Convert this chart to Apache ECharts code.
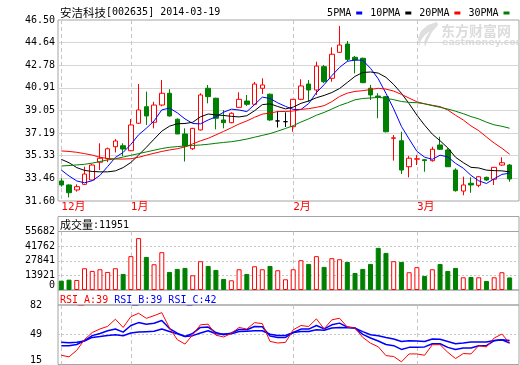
<!DOCTYPE html>
<html><head><meta charset="utf-8">
<script src="https://cdn.jsdelivr.net/npm/echarts@6/dist/echarts.min.js"></script>
<style>html,body{margin:0;padding:0;background:#fff}#c{width:520px;height:365px}</style>
</head><body><div id="c"></div>
<script>
// ---------------- data ----------------
const stockName = '安洁科技';
const stockCode = '002635';
const dates = ['2013-12-19','2013-12-20','2013-12-23','2013-12-24','2013-12-25','2013-12-26','2013-12-27','2013-12-30','2013-12-31',
'2014-01-02','2014-01-03','2014-01-06','2014-01-07','2014-01-08','2014-01-09','2014-01-10','2014-01-13','2014-01-14','2014-01-15','2014-01-16','2014-01-17','2014-01-20','2014-01-21','2014-01-22','2014-01-23','2014-01-24','2014-01-27','2014-01-28','2014-01-29','2014-01-30',
'2014-02-07','2014-02-10','2014-02-11','2014-02-12','2014-02-13','2014-02-14','2014-02-17','2014-02-18','2014-02-19','2014-02-20','2014-02-21','2014-02-24','2014-02-25','2014-02-26','2014-02-27','2014-02-28',
'2014-03-03','2014-03-04','2014-03-05','2014-03-06','2014-03-07','2014-03-10','2014-03-11','2014-03-12','2014-03-13','2014-03-14','2014-03-17','2014-03-18','2014-03-19'];
const opens = [33.25,32.92,32.51,32.97,33.33,34.79,35.08,36.07,36.15,35.74,38.00,39.36,38.08,39.50,40.47,38.33,37.12,35.90,37.45,40.88,40.06,38.27,38.05,39.31,39.83,39.56,40.88,40.39,38.19,38.13,37.72,39.97,41.23,40.74,42.66,41.70,43.84,44.52,43.43,43.35,40.88,40.24,40.19,36.76,36.56,34.42,35.04,35.00,34.92,36.21,35.80,34.15,32.42,33.06,32.89,33.55,33.39,34.56,34.56];
const closes = [32.92,32.28,32.78,33.82,34.56,35.12,35.90,36.54,35.88,37.86,39.09,38.60,39.50,40.47,38.60,37.12,36.13,37.58,40.33,40.19,38.41,38.05,38.82,39.97,39.56,41.23,41.15,38.27,38.19,38.13,39.97,41.07,40.74,42.71,41.42,43.68,44.44,43.26,43.21,41.34,40.33,40.14,37.30,36.80,34.15,35.12,35.08,34.92,35.86,35.86,34.42,32.45,32.92,32.92,33.60,33.33,34.37,34.75,33.41];
const lows = [32.78,31.90,32.37,32.92,33.30,34.15,34.80,35.60,35.30,35.70,37.95,37.86,37.58,39.40,38.55,37.10,34.85,35.80,37.40,39.64,37.50,37.58,38.00,39.28,39.42,39.50,40.41,38.20,37.65,37.70,37.30,39.90,39.77,40.33,41.30,41.42,43.80,43.07,42.11,41.30,39.91,38.41,37.25,34.92,33.82,33.55,34.56,34.01,34.84,35.80,34.40,32.37,32.07,32.28,32.73,33.25,32.92,34.50,33.19];
const highs = [33.47,32.97,32.97,34.42,34.65,36.35,36.00,36.70,36.35,38.35,41.23,40.60,39.77,41.56,40.80,38.40,37.58,37.62,40.47,41.15,40.10,39.09,38.90,40.55,40.33,41.40,41.70,40.45,39.00,38.90,40.00,41.62,41.56,43.07,42.80,44.25,46.01,44.77,43.54,43.40,41.15,40.47,40.25,37.03,37.30,35.30,35.39,35.05,36.07,36.89,35.94,34.29,33.60,33.55,33.65,33.60,34.40,35.20,34.65];
const volumes = [8900,9850,9550,20700,18150,19750,17200,20700,15300,32200,49400,31500,24500,36000,17200,20050,21000,14000,27400,22900,19100,10500,9250,19750,15300,22600,19750,22900,18800,10200,19750,28350,24800,32200,22000,30300,29300,26700,16200,20050,24800,40100,35300,27400,26700,16900,21700,13400,19750,24800,18150,21000,12100,12400,12100,8600,12100,16900,11951];
const ma5 = [34.15,33.66,33.25,33.10,33.27,33.71,34.44,35.19,35.60,36.26,37.05,37.59,38.19,39.10,39.25,38.86,38.36,37.98,37.95,38.27,38.53,38.91,39.16,39.09,38.96,39.53,40.15,40.04,39.68,39.39,39.14,39.13,39.62,40.52,41.18,41.92,42.60,43.10,43.20,43.19,42.52,41.66,40.46,39.18,37.74,36.70,35.69,35.21,35.03,35.37,35.23,34.70,34.30,33.71,33.26,33.04,33.43,33.79,33.89];
const ma10 = [35.03,34.75,34.35,34.12,34.03,34.00,34.00,34.08,34.35,34.77,35.38,36.02,36.69,37.35,37.76,37.96,37.98,38.08,38.53,38.76,38.69,38.64,38.57,38.52,38.62,39.03,39.53,39.60,39.38,39.18,39.33,39.64,39.83,40.10,40.29,40.53,40.86,41.36,41.86,42.18,42.22,42.13,41.78,41.19,40.47,39.61,38.67,37.84,37.10,36.56,35.97,35.20,34.76,34.37,34.32,34.14,34.10,34.08,34.00];
const ma20 = [35.72,35.68,35.61,35.50,35.38,35.20,35.10,35.06,35.05,35.08,35.20,35.37,35.53,35.68,35.80,35.90,36.05,36.30,36.55,36.76,37.04,37.33,37.63,37.94,38.19,38.49,38.75,38.84,38.96,38.97,39.01,39.14,39.20,39.31,39.45,39.78,40.20,40.48,40.62,40.68,40.78,40.88,40.81,40.65,40.38,40.07,39.77,39.60,39.48,39.37,39.09,38.66,38.27,37.78,37.39,36.87,36.37,35.94,35.45];
const ma30 = [34.48,34.52,34.57,34.62,34.72,34.85,34.98,35.08,35.22,35.36,35.50,35.64,35.78,35.92,36.02,36.08,36.13,36.17,36.21,36.27,36.35,36.42,36.48,36.58,36.70,36.85,37.00,37.15,37.35,37.57,37.80,38.10,38.36,38.66,38.89,39.17,39.46,39.68,39.93,40.04,40.08,40.13,40.06,39.94,39.79,39.72,39.69,39.60,39.45,39.31,39.17,38.99,38.79,38.55,38.36,38.09,37.87,37.75,37.59];
const rsiA = [25.4,23.6,31,43,51,55,58,66,56.7,68.9,72.7,67,70,73.4,56,43,38,48.5,59.7,60.4,48,46,50,56.7,54.9,62.2,61,41,39.2,39.9,54.1,58.9,57.8,66.4,55.2,65.3,67.1,57.1,56,45.5,39,35,25,24,18,26.9,26.9,25.4,37.3,37.3,28.7,21.7,27.3,26.9,36.2,34.8,44.8,49.3,39];
const rsiB = [36.2,36.0,37.5,42,47.5,50,53,54.9,51.5,58.9,62.2,60.4,61.4,64.5,55.5,50.4,46.6,50,56.7,57.1,51,48.5,50.5,54.5,54.1,57.8,57.5,47,45.5,45.5,51,54.9,54.9,58.9,55.2,59.7,61.6,57.1,56,49,44.8,41.5,37.5,36.2,32,34.3,34.5,34.8,38.4,38.4,34.3,31.8,33.6,33.6,36.2,36.2,41.8,42.9,39];
const rsiC = [40,39.5,40,41.5,45.5,46.5,47.7,48.5,47.4,50.5,51.5,52,52.5,54.9,52.2,49.5,46.6,47.5,50.5,53,49.6,49.3,49.5,52.2,52.4,53,53,49,47.7,47.7,51,52.2,52.2,54.1,53.5,56,56.7,56.3,56,52,48.5,47.4,45.5,43.7,41,41.8,41.5,41,43.7,43.5,41,38.4,39.2,40.3,40.3,40.3,42,42.9,42];
const priceTicks = ['31.60','33.46','35.33','37.19','39.05','40.91','42.78','44.64','46.50'];
const volumeTicks = [0,13921,27841,41762,55682];
const rsiTicks = [15,49,82];
const maNames = ['5PMA','10PMA','20PMA','30PMA'];

// ---------------- styling ----------------
const RED = '#ff0000', GREEN = '#008000', BLUE = '#0000ff', BLACK = '#000000';
const FRAME = '#a4a4a4', GRIDLINE = '#d6d6d6', DASH = '#c6c6c6';
const MONO = "'DejaVu Sans Mono', monospace";
const CJK = "'Noto Sans CJK SC', sans-serif";
const MIXED = "'DejaVu Sans Mono', 'Noto Sans CJK SC', monospace";
const maColors = [BLUE, BLACK, RED, GREEN];
const maData = [ma5, ma10, ma20, ma30];
const X_MIN = -0.427, X_MAX = 59.21;

const idx = dates.map((d, i) => i);
const monthStarts = idx.filter(i => i === 0 || dates[i].slice(5, 7) !== dates[i - 1].slice(5, 7));
const monthText = i => parseInt(dates[i].slice(5, 7), 10) + '月';
const last = dates.length - 1;
const priceTickValues = priceTicks.map(Number);

function xAxis(gridIndex, withLabels) {
  return {
    type: 'value', gridIndex, min: X_MIN, max: X_MAX,
    axisLine: { show: false },
    axisTick: { show: false, customValues: monthStarts },
    axisLabel: withLabels ? {
      show: true, customValues: monthStarts,
      formatter: v => monthText(Math.round(v)),
      color: RED, fontFamily: MIXED, fontSize: 11, align: 'left', margin: 1
    } : { show: false },
    splitLine: { show: true, lineStyle: { color: DASH, type: [4, 3], width: 1 } }
  };
}
const liftRich = { lift: { padding: [0, 0, 9, 0], fontFamily: MONO, fontSize: 10, color: '#000' } };

const chart = echarts.init(document.getElementById('c'), null, { renderer: 'canvas' });
chart.setOption({
  animation: false,
  backgroundColor: '#fff',
  title: [
    { left: 60, top: 7, padding: 0,
      text: '{cn|' + stockName + '}{en|[' + stockCode + '] ' + dates[last] + '}',
      textStyle: { fontSize: 10, fontWeight: 'normal', fontFamily: MONO,
        rich: { cn: { fontFamily: CJK, fontSize: 11.5, color: '#000' }, en: { fontFamily: MONO, fontSize: 10, color: '#000' } } } },
    { left: 60, top: 219.5, padding: 0,
      text: '{cn|成交量}{en|:' + volumes[last] + '}',
      textStyle: { fontSize: 10, fontWeight: 'normal', fontFamily: MONO,
        rich: { cn: { fontFamily: CJK, fontSize: 11, color: '#000' }, en: { fontFamily: MONO, fontSize: 10, color: '#000' } } } },
    { left: 60, top: 295, padding: 0,
      text: '{a|RSI_A:' + Math.round(rsiA[last]) + '} {b|RSI_B:' + Math.round(rsiB[last]) + '} {b|RSI_C:' + Math.round(rsiC[last]) + '}',
      textStyle: { fontSize: 10, fontWeight: 'normal', fontFamily: MONO,
        rich: { a: { fontFamily: MONO, fontSize: 10, color: RED }, b: { fontFamily: MONO, fontSize: 10, color: BLUE } } } }
  ],
  legend: {
    data: maNames, right: 10.5, top: 8, padding: 0, align: 'right', icon: 'rect',
    itemWidth: 6, itemHeight: 3, itemGap: 8, selectedMode: false,
    textStyle: { fontFamily: MONO, fontSize: 10, color: '#000' }
  },
  grid: [
    { left: 58, right: 1, top: 20, height: 181, show: true, borderColor: FRAME, borderWidth: 1, backgroundColor: 'transparent' },
    { left: 58, right: 1, top: 231.5, height: 58.5, show: true, borderColor: FRAME, borderWidth: 1, backgroundColor: 'transparent' },
    { left: 58, right: 1, top: 305, height: 59.5, show: true, borderColor: FRAME, borderWidth: 1, backgroundColor: 'transparent' }
  ],
  xAxis: [xAxis(0, true), xAxis(1, false), xAxis(2, false)],
  yAxis: [
    { type: 'value', gridIndex: 0, min: priceTickValues[0], max: priceTickValues[priceTickValues.length - 1],
      axisLine: { show: false }, axisTick: { show: false, customValues: priceTickValues.slice(1, -1) },
      axisLabel: { customValues: priceTickValues, formatter: v => v.toFixed(2), fontFamily: MONO, fontSize: 10, color: '#000', margin: 3 },
      splitLine: { show: true, lineStyle: { color: GRIDLINE, width: 1 } } },
    { type: 'value', gridIndex: 1, min: volumeTicks[0], max: volumeTicks[volumeTicks.length - 1],
      axisLine: { show: false }, axisTick: { show: false, customValues: volumeTicks.slice(1, -1) },
      axisLabel: { customValues: volumeTicks, formatter: v => v === 0 ? '{lift|0}' : String(v), rich: liftRich, fontFamily: MONO, fontSize: 10, color: '#000', margin: 3 },
      splitLine: { show: true, lineStyle: { color: DASH, type: [2, 2], width: 1 } } },
    { type: 'value', gridIndex: 2, min: rsiTicks[0], max: rsiTicks[rsiTicks.length - 1],
      axisLine: { show: false }, axisTick: { show: false, customValues: rsiTicks.slice(1, -1) },
      axisLabel: { customValues: rsiTicks, formatter: v => v === rsiTicks[0] ? '{lift|' + v + '}' : String(v), rich: liftRich, fontFamily: MONO, fontSize: 10, color: '#000', margin: 22, align: 'center' },
      splitLine: { show: true, lineStyle: { color: DASH, type: [2, 2], width: 1 } } }
  ],
  graphic: [
    { type: 'rect', silent: true, shape: { x: 58, y: 216.5, width: 461, height: 15 }, style: { fill: 'none', stroke: FRAME, lineWidth: 1 } },
    { type: 'rect', silent: true, shape: { x: 58, y: 290, width: 461, height: 15 }, style: { fill: 'none', stroke: FRAME, lineWidth: 1 } },
    { type: 'polygon', silent: true, shape: { points: [[437, 22], [428, 25], [421, 31], [418, 38], [419, 47], [421, 40], [425, 35], [430, 31], [426, 37], [424, 42], [425, 47], [428, 40], [432, 32], [438, 25]] }, style: { fill: '#dedede' } },
    { type: 'text', silent: true, left: 441, top: 24, style: { text: '东方财富网', font: 'bold 14px "Noto Sans CJK SC"', fill: '#dcdcdc' } },
    { type: 'text', silent: true, left: 442, top: 38, style: { text: 'eastmoney.com', font: 'bold 9.5px "DejaVu Sans"', fill: '#dcdcdc' } }
  ],
  series: [
    { type: 'candlestick', name: 'K', xAxisIndex: 0, yAxisIndex: 0, barWidth: 5, z: 2,
      data: idx.map(i => [i, opens[i], closes[i], lows[i], highs[i]]),
      itemStyle: { color: '#ffffff', color0: GREEN, borderColor: RED, borderColor0: GREEN, borderColorDoji: BLACK, borderWidth: 1 } },
    ...maNames.map((n, k) => ({
      type: 'line', name: n, xAxisIndex: 0, yAxisIndex: 0, z: 3, symbol: 'none', silent: true,
      color: maColors[k], lineStyle: { color: maColors[k], width: 1 },
      data: idx.map(i => [i, maData[k][i]])
    })),
    { type: 'bar', name: '成交量', xAxisIndex: 1, yAxisIndex: 1, barWidth: 5,
      data: idx.map(i => ({ value: [i, volumes[i]],
        itemStyle: closes[i] >= opens[i] ? { color: '#ffffff', borderColor: RED, borderWidth: 1 } : { color: GREEN, borderColor: GREEN, borderWidth: 1 } })) },
    { type: 'line', name: 'RSI_A', xAxisIndex: 2, yAxisIndex: 2, symbol: 'none', z: 4, color: RED, lineStyle: { color: RED, width: 1 }, data: idx.map(i => [i, rsiA[i]]) },
    { type: 'line', name: 'RSI_B', xAxisIndex: 2, yAxisIndex: 2, symbol: 'none', z: 3, color: BLUE, lineStyle: { color: BLUE, width: 1.5 }, data: idx.map(i => [i, rsiB[i]]) },
    { type: 'line', name: 'RSI_C', xAxisIndex: 2, yAxisIndex: 2, symbol: 'none', z: 3, color: BLUE, lineStyle: { color: BLUE, width: 1.5 }, data: idx.map(i => [i, rsiC[i]]) }
  ]
});
</script>
</body></html>
